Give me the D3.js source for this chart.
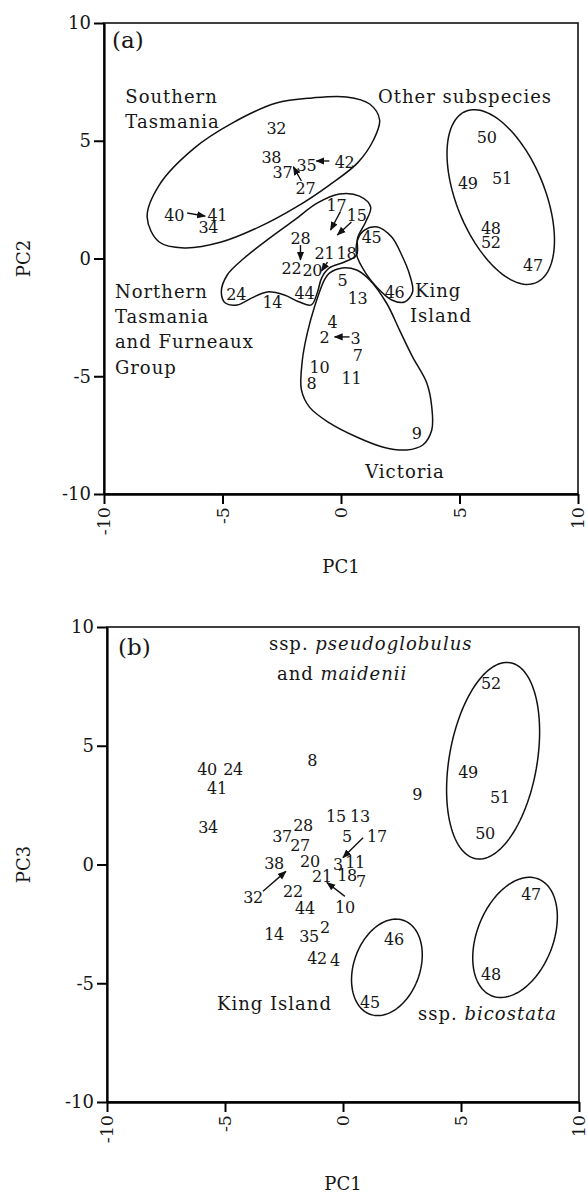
<!DOCTYPE html>
<html>
<head>
<meta charset="utf-8">
<script src="https://cdn.jsdelivr.net/npm/d3@7"></script>
<style>
  body { margin: 0; background: #fff; }
  svg text { font-family: 'DejaVu Serif', serif; fill: #161616; }
</style>
</head>
<body>
<div id="vis"></div>
<script>
// tick values used on every axis
const ticks = [-10, -5, 0, 5, 10]

// Panel (a): site number, PC1, PC2
const sitesA = [
  ['32', -2.73, 5.54], ['38', -2.94, 4.31], ['37', -2.47, 3.67], ['35', -1.46, 3.95],
  ['42', 0.15, 4.10], ['27', -1.50, 2.99], ['40', -7.04, 1.85], ['41', -5.22, 1.85],
  ['34', -5.60, 1.34], ['17', -0.19, 2.27], ['15', 0.66, 1.85], ['28', -1.71, 0.87],
  ['21', -0.70, 0.23], ['18', 0.23, 0.23], ['22', -2.09, -0.40], ['20', -1.21, -0.49],
  ['45', 1.29, 0.91], ['5', 0.06, -0.91], ['13', 0.70, -1.68], ['46', 2.26, -1.42],
  ['44', -1.54, -1.46], ['14', -2.90, -1.85], ['24', -4.42, -1.51], ['4', -0.36, -2.70],
  ['2', -0.70, -3.33], ['3', 0.61, -3.38], ['7', 0.70, -4.10], ['10', -0.91, -4.61],
  ['8', -1.25, -5.29], ['11', 0.44, -5.07], ['9', 3.19, -7.41], ['50', 6.15, 5.16],
  ['49', 5.35, 3.21], ['51', 6.79, 3.42], ['48', 6.32, 1.30], ['52', 6.32, 0.70],
  ['47', 8.10, -0.28]
]

// Panel (a) arrows: from PC1, PC2 to PC1, PC2
const arrowsA = [
  [-6.49, 1.93, -5.73, 1.80], [-0.49, 4.14, -1.04, 4.14], [-1.67, 3.29, -2.01, 3.89],
  [-0.02, 2.00, -0.44, 1.21], [0.44, 1.55, -0.15, 1.00], [-1.71, 0.57, -1.71, -0.06],
  [-0.57, -0.15, -0.82, -0.53], [0.36, -3.33, -0.27, -3.33]
]

// Panel (a) group outlines, in PC1/PC2 units
const southTas = [
  [-8.18, 1.76], [-7.67, 3.12], [-6.19, 4.69], [-4.59, 5.75], [-2.73, 6.60], [-1.21, 6.82],
  [0.23, 6.86], [1.21, 6.56], [1.63, 5.88], [1.37, 5.03], [0.70, 4.06], [-0.49, 3.12],
  [-1.88, 2.19], [-3.45, 1.34], [-5.05, 0.70], [-6.62, 0.45], [-7.67, 0.70]
]
const northTas = [
  [-5.05, -1.42], [-4.80, -0.70], [-4.08, 0.02], [-3.11, 0.79], [-1.97, 1.63], [-0.99, 2.36],
  [-0.06, 2.74], [0.78, 2.65], [1.25, 2.19], [1.04, 1.55], [0.70, 0.87], [0.66, 0.15],
  [0.15, -0.15], [-0.49, -0.40], [-0.82, -0.83], [-0.99, -1.42], [-1.25, -1.97], [-1.75, -1.85],
  [-2.39, -1.55], [-3.11, -1.42], [-3.78, -1.68], [-4.38, -1.97], [-4.88, -1.89]
]
const kingIslandA = [
  [0.66, 0.15], [0.70, 0.79], [0.99, 1.21], [1.54, 1.34], [2.14, 0.91], [2.56, 0.15],
  [2.90, -0.70], [3.02, -1.42], [2.68, -1.85], [2.14, -1.76], [1.54, -1.25], [1.04, -0.62]
]
const victoria = [
  [-0.70, -0.91], [-1.12, -2.06], [-1.42, -3.16], [-1.63, -4.31], [-1.67, -5.58], [-1.33, -6.31],
  [-0.49, -6.98], [0.66, -7.58], [1.75, -8.00], [2.77, -8.13], [3.45, -7.92], [3.83, -7.28],
  [3.83, -6.31], [3.62, -5.29], [3.02, -4.18], [2.47, -3.04], [1.92, -1.89], [1.21, -0.91],
  [0.66, -0.49], [0.06, -0.40], [-0.49, -0.62]
]

// ellipses: centre PC1, centre PC2/PC3, half length, half width, angle (degrees)
const ellipsesA = [[6.74, 2.61, 3.93, 1.86, 112]]

// Panel (a) text notes: x, baseline y, anchor, roman part, italic part
const notesA = [
  [-9.1, 6.60, 'start', 'Southern', ''], [-9.1, 5.54, 'start', 'Tasmania', ''],
  [1.56, 6.60, 'start', 'Other subspecies', ''],
  [-9.54, -1.68, 'start', 'Northern', ''], [-9.54, -2.74, 'start', 'Tasmania', ''],
  [-9.54, -3.80, 'start', 'and Furneaux', ''], [-9.54, -4.90, 'start', 'Group', ''],
  [3.12, -1.63, 'start', 'King', ''], [2.91, -2.70, 'start', 'Island', ''],
  [2.70, -9.32, 'middle', 'Victoria', '']
]

// Panel (b): site number, PC1, PC3
const sitesB = [
  ['8', -1.31, 4.41], ['40', -5.76, 3.99], ['24', -4.66, 3.99], ['41', -5.34, 3.19],
  ['9', 3.14, 2.94], ['34', -5.72, 1.55], ['15', -0.30, 2.02], ['13', 0.72, 2.02],
  ['28', -1.69, 1.64], ['37', -2.58, 1.18], ['27', -1.82, 0.80], ['5', 0.17, 1.18],
  ['17', 1.44, 1.18], ['38', -2.92, 0.04], ['20', -1.40, 0.13], ['3', -0.21, 0.0],
  ['11', 0.51, 0.08], ['21', -0.89, -0.50], ['18', 0.17, -0.46], ['7', 0.76, -0.71],
  ['32', -3.81, -1.39], ['22', -2.12, -1.13], ['44', -1.61, -1.85], ['10', 0.08, -1.81],
  ['14', -2.92, -2.94], ['35', -1.44, -3.03], ['2', -0.76, -2.65], ['42', -1.10, -3.95],
  ['4', -0.34, -4.03], ['46', 2.16, -3.15], ['45', 1.14, -5.80], ['47', 7.97, -1.26],
  ['48', 6.27, -4.62], ['52', 6.27, 7.65], ['49', 5.30, 3.87], ['51', 6.65, 2.82],
  ['50', 6.02, 1.30]
]

const arrowsB = [
  [0.85, 1.13, 0.0, 0.29], [-3.39, -1.13, -2.42, -0.29], [0.08, -1.34, -0.68, -0.76]
]

const ellipsesB = [
  [6.36, 4.37, 4.19, 1.86, 80], [7.29, -3.07, 2.65, 1.61, 68], [1.86, -4.33, 2.10, 1.40, 70]
]

const notesB = [
  [-3.14, 9.03, 'start', 'ssp. ', 'pseudoglobulus'], [-2.80, 7.77, 'start', 'and ', 'maidenii'],
  [-5.34, -6.13, 'start', 'King Island', ''], [3.18, -6.55, 'start', 'ssp. ', 'bicostata']
]

class PcaPanel {
  constructor(svg, config) {
    this.svg = svg
    this.config = config
    this.initVis()
  }

  initVis() {
    let vis = this
    let c = vis.config

    vis.g = vis.svg.append('g').attr('class', 'panel')

    vis.xScale = d3.scaleLinear().domain([-10, 10]).range([c.left, c.right])
    vis.yScale = d3.scaleLinear().domain([-10, 10]).range([c.bottom, c.top])

    // frame
    vis.g.append('rect')
      .attr('x', c.left).attr('y', c.top)
      .attr('width', c.right - c.left).attr('height', c.bottom - c.top)
      .attr('fill', 'none').attr('stroke', '#111').attr('stroke-width', 1.6)

    // plain hyphen instead of d3's unicode minus
    let fmt = d => String(d)

    // left axis
    let yAxis = vis.g.append('g')
      .attr('transform', `translate(${c.left},0)`)
      .call(d3.axisLeft(vis.yScale).tickValues(ticks).tickFormat(fmt)
        .tickSize(10).tickSizeOuter(0).tickPadding(3))
    yAxis.select('.domain').attr('stroke-width', 2.2)
    yAxis.selectAll('line').attr('stroke-width', 2)
    yAxis.selectAll('text')
      .attr('font-family', 'DejaVu Serif')
      .attr('font-size', 18)
      .attr('fill', '#161616')

    // bottom axis, rotated labels
    let xAxis = vis.g.append('g')
      .attr('transform', `translate(0,${c.bottom})`)
      .call(d3.axisBottom(vis.xScale).tickValues(ticks).tickFormat(fmt)
        .tickSize(10).tickSizeOuter(0))
    xAxis.select('.domain').attr('stroke-width', 2.4)
    xAxis.selectAll('line').attr('stroke-width', 2)
    xAxis.selectAll('text')
      .attr('font-family', 'DejaVu Serif')
      .attr('font-size', 17.5)
      .attr('fill', '#161616')
      .attr('transform', 'rotate(-90)')
      .attr('text-anchor', 'end')
      .attr('x', -13)
      .attr('y', 0)
      .attr('dy', '0.34em')

    // axis titles
    vis.g.append('text')
      .attr('x', (c.left + c.right) / 2)
      .attr('y', c.xTitleY)
      .attr('text-anchor', 'middle')
      .attr('font-size', 18)
      .text('PC1')

    vis.g.append('text')
      .attr('transform', `translate(30,${(c.top + c.bottom) / 2}) rotate(-90)`)
      .attr('text-anchor', 'middle')
      .attr('font-size', 18)
      .text(c.yTitle)

    // panel tag
    vis.g.append('text')
      .attr('x', c.left + c.tagDx)
      .attr('y', c.top + c.tagDy)
      .attr('font-family', 'Liberation Sans, Arial, sans-serif')
      .attr('font-size', 23)
      .text(c.tag)

    vis.renderVis()
  }

  renderVis() {
    let vis = this
    let c = vis.config

    // group outlines
    let outline = d3.line()
      .x(d => vis.xScale(d[0]))
      .y(d => vis.yScale(d[1]))
      .curve(d3.curveCatmullRomClosed.alpha(0.5))

    vis.g.append('g').selectAll('path')
      .data(c.outlines)
      .enter()
      .append('path')
      .attr('d', outline)
      .attr('fill', 'none')
      .attr('stroke', '#111')
      .attr('stroke-width', 1.5)

    // ellipses in data units
    let ellipsePoints = e => {
      let a = e[4] * Math.PI / 180
      return d3.range(0, 2 * Math.PI, Math.PI / 60).map(t => {
        let u = e[2] * Math.cos(t)
        let v = e[3] * Math.sin(t)
        return [e[0] + u * Math.cos(a) - v * Math.sin(a), e[1] + u * Math.sin(a) + v * Math.cos(a)]
      })
    }
    let closedLine = d3.line()
      .x(d => vis.xScale(d[0]))
      .y(d => vis.yScale(d[1]))
      .curve(d3.curveLinearClosed)

    vis.g.append('g').selectAll('path')
      .data(c.ellipses)
      .enter()
      .append('path')
      .attr('d', e => closedLine(ellipsePoints(e)))
      .attr('fill', 'none')
      .attr('stroke', '#111')
      .attr('stroke-width', 1.5)

    // arrows
    vis.g.append('g').selectAll('line')
      .data(c.arrows)
      .enter()
      .append('line')
      .attr('x1', d => vis.xScale(d[0]))
      .attr('y1', d => vis.yScale(d[1]))
      .attr('x2', d => vis.xScale(d[2]))
      .attr('y2', d => vis.yScale(d[3]))
      .attr('stroke', '#111')
      .attr('stroke-width', 1.4)
      .attr('marker-end', 'url(#head)')

    // site numbers
    vis.g.append('g').selectAll('text')
      .data(c.sites)
      .enter()
      .append('text')
      .attr('x', d => vis.xScale(d[1]))
      .attr('y', d => vis.yScale(d[2]))
      .attr('dy', '0.36em')
      .attr('text-anchor', 'middle')
      .attr('font-size', 16)
      .attr('letter-spacing', -0.3)
      .text(d => d[0])

    // group names
    let notes = vis.g.append('g').selectAll('text')
      .data(c.notes)
      .enter()
      .append('text')
      .attr('x', d => vis.xScale(d[0]))
      .attr('y', d => vis.yScale(d[1]))
      .attr('text-anchor', d => d[2])
      .attr('font-size', 18)
      .attr('letter-spacing', 1)

    notes.append('tspan').text(d => d[3])
    notes.append('tspan').attr('font-style', 'italic').text(d => d[4])
  }
}

let svg = d3.select('#vis')
  .append('svg')
  .attr('width', 588)
  .attr('height', 1195)

svg.append('defs').append('marker')
  .attr('id', 'head')
  .attr('viewBox', '0 -5 10 10')
  .attr('refX', 9)
  .attr('refY', 0)
  .attr('markerUnits', 'userSpaceOnUse')
  .attr('markerWidth', 9)
  .attr('markerHeight', 9)
  .attr('orient', 'auto')
  .append('path')
  .attr('d', 'M0,-4L10,0L0,4Z')
  .attr('fill', '#111')

new PcaPanel(svg, {
  left: 104, right: 578, top: 23, bottom: 494,
  xTitleY: 573, yTitle: 'PC2', tag: '(a)', tagDx: 8, tagDy: 25,
  sites: sitesA, arrows: arrowsA,
  outlines: [southTas, northTas, kingIslandA, victoria],
  ellipses: ellipsesA, notes: notesA
})

new PcaPanel(svg, {
  left: 107, right: 579, top: 627, bottom: 1102,
  xTitleY: 1190, yTitle: 'PC3', tag: '(b)', tagDx: 11, tagDy: 28,
  sites: sitesB, arrows: arrowsB,
  outlines: [],
  ellipses: ellipsesB, notes: notesB
})
</script>
</body>
</html>
